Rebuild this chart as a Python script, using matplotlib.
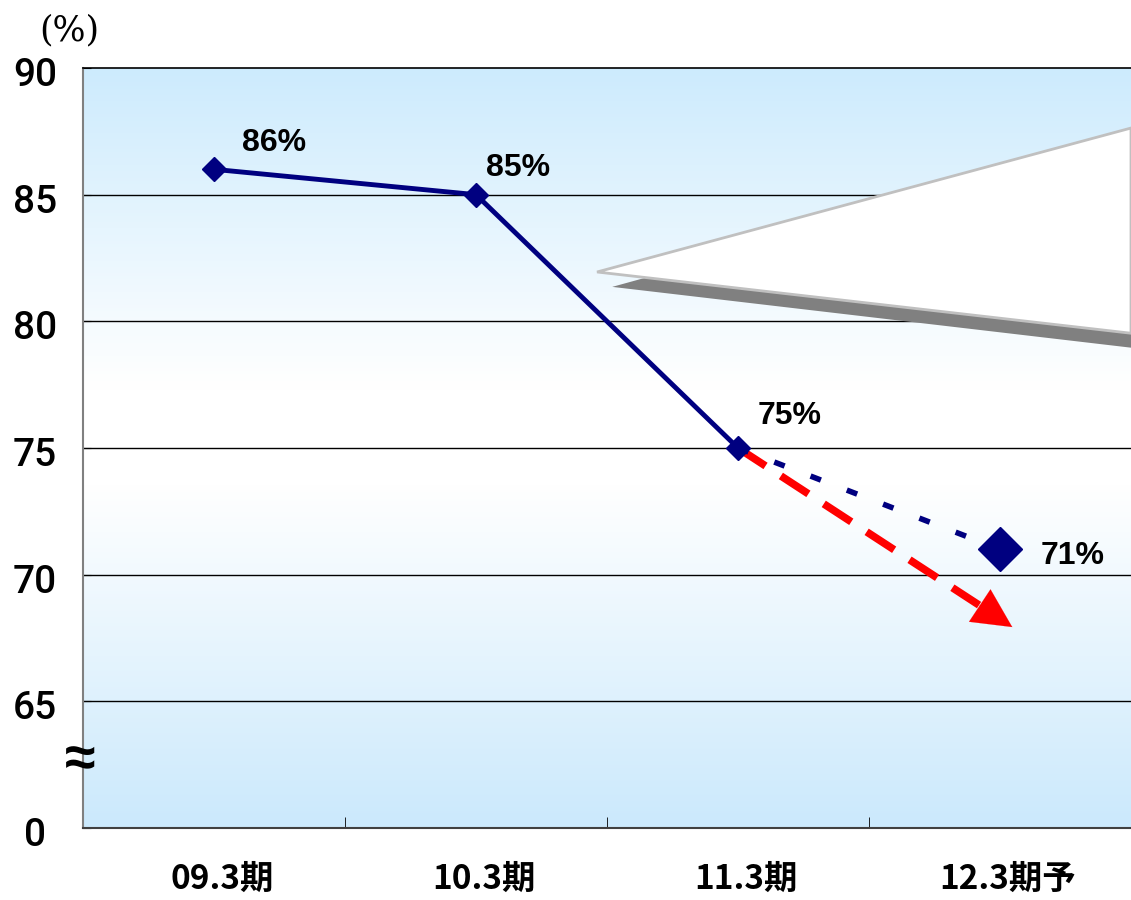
import numpy as np
import matplotlib.pyplot as plt
from matplotlib.colors import LinearSegmentedColormap
from matplotlib.patches import Polygon

plt.rcParams['font.family'] = ['Liberation Sans', 'Noto Sans CJK JP', 'DejaVu Sans']

# data
periods = ['09.3期', '10.3期', '11.3期', '12.3期予']
actual = [86, 85, 75]
forecast = [75, 71]
red_target = 68.0
labels = ['86%', '85%', '75%', '71%']
ytick_vals = [60, 65, 70, 75, 80, 85, 90]
ytick_text = ['0', '65', '70', '75', '80', '85', '90']

navy = '#000080'

fig = plt.figure(figsize=(11.31, 9), dpi=100)
ax = fig.add_axes([83 / 1131, 72 / 900, 1 - 83 / 1131, 760 / 900])
ax.set_xlim(-0.5, 3.5)
ax.set_ylim(60, 90)

# gradient background: blue top, white middle, blue bottom
cmap = LinearSegmentedColormap.from_list('bg', [(0, '#cbe9fc'), (0.45, '#ffffff'),
                                                (0.58, '#ffffff'), (1, '#cdebfd')])
grad = np.linspace(0, 1, 256).reshape(-1, 1)
ax.imshow(grad, cmap=cmap, extent=[0, 1, 0, 1], transform=ax.transAxes,
          aspect='auto', origin='lower', zorder=0)

for v in ytick_vals[1:-1]:
    ax.axhline(v, color='black', lw=1, zorder=1)

# callout wedge with shadow
shadow = Polygon([(0.505, 0.712), (1.0, 0.90), (1.0, 0.632)], closed=True,
                 transform=ax.transAxes, fc='#808080', ec='none', zorder=2)
wedge = Polygon([(0.4905, 0.7316), (1.0, 0.921), (1.0, 0.651)], closed=True,
                transform=ax.transAxes, fc='white', ec='#c0c0c0', lw=2, zorder=3)
ax.add_patch(shadow)
ax.add_patch(wedge)

x = np.arange(len(periods))

# red dashed trend arrow
head_x, head_y = x[3] - 0.08, red_target + 0.8
ax.plot([x[2], head_x], [forecast[0], head_y], color='red', lw=5.5,
        dashes=(4.3, 2.4), zorder=4, solid_capstyle='butt')
ax.annotate('', xy=(x[3] + 0.047, red_target - 0.07), xytext=(head_x, head_y),
            arrowprops=dict(arrowstyle='-|>,head_length=2.8,head_width=1.4', color='red',
                            lw=0.1, shrinkA=0, shrinkB=0), zorder=5)

# forecast dotted line
ax.plot(x[2:], forecast, color=navy, lw=4, dashes=(2, 5), zorder=5)
ax.plot(x[3], forecast[1], marker='D', color=navy, ms=22, zorder=6)

# actual line
ax.plot(x[:3], actual, color=navy, lw=3.5, marker='D', ms=12, zorder=6)

vals = actual + [forecast[1]]
offsets = [(43, 19), (30, 19), (37, 23), (52, -5)]
for xi, v, lab, off in zip(x, vals, labels, offsets):
    ax.annotate(lab, (xi, v), xytext=off, textcoords='offset points', ha='center',
                va='center', fontsize=23, fontweight='bold', zorder=7)

# axes styling
ax.set_yticks(ytick_vals)
ax.set_yticklabels([])
ax.tick_params(axis='y', direction='in', length=6, color='black')
for v, t in zip(ytick_vals, ytick_text):
    ax.text(-0.0458, v - 0.3, t, transform=ax.get_yaxis_transform(), ha='center',
            va='center', fontsize=28, family=['Roboto'], fontweight='medium')
ax.text(-0.0025, 62.6, '≈', transform=ax.get_yaxis_transform(), ha='center',
        va='center', fontsize=40, fontweight='bold')
ax.text(-0.0134, 91.5, '(%)', transform=ax.get_yaxis_transform(), ha='center',
        va='center', fontsize=25, family=['DejaVu Serif'], clip_on=False)

ax.set_xticks(x)
ax.set_xticklabels([])
ax.tick_params(axis='x', which='major', length=0)
ax.set_xticks([0.5, 1.5, 2.5], minor=True)
ax.tick_params(axis='x', which='minor', direction='in', length=8, color='black')
for xi, p in zip(x, periods):
    ax.text(xi + 0.03, -0.068, p, transform=ax.get_xaxis_transform(), ha='center',
            va='center', fontsize=24, fontweight='bold',
            family=['Noto Sans CJK JP'])

ax.spines['left'].set_color('#808080')
ax.spines['left'].set_linewidth(1.5)
ax.spines['bottom'].set_color('#404040')
ax.spines['bottom'].set_linewidth(1.5)
ax.spines['top'].set_linewidth(1.2)
ax.spines['right'].set_visible(False)

fig.savefig('out.png', dpi=100)
